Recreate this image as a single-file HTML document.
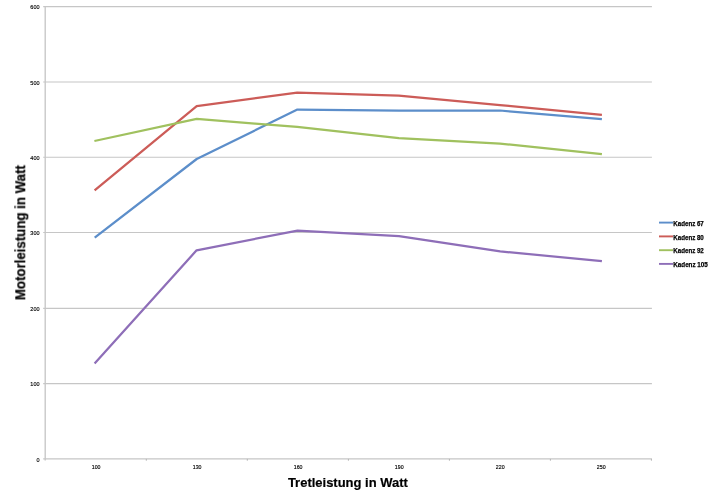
<!DOCTYPE html>
<html>
<head>
<meta charset="utf-8">
<style>
html,body{margin:0;padding:0;background:#fff;}
body{width:712px;height:490px;overflow:hidden;font-family:"Liberation Sans",sans-serif;}
svg{display:block;}
text{font-family:"Liberation Sans",sans-serif;}
</style>
</head>
<body>
<svg width="712" height="490" viewBox="0 0 712 490">
<rect width="712" height="490" fill="#ffffff"/>
<defs>
<filter id="soft" x="-5%" y="-5%" width="110%" height="110%"><feGaussianBlur stdDeviation="0.35"/></filter>
<filter id="softt" x="-5%" y="-5%" width="110%" height="110%"><feGaussianBlur stdDeviation="0.3"/></filter>
</defs>
<g stroke="#c6c6c6" stroke-width="1.15" fill="none">
<line x1="43.2" y1="6.6" x2="651.9" y2="6.6"/>
<line x1="43.2" y1="81.95" x2="651.9" y2="81.95"/>
<line x1="43.2" y1="157.25" x2="651.9" y2="157.25"/>
<line x1="43.2" y1="232.45" x2="651.9" y2="232.45"/>
<line x1="43.2" y1="308.3" x2="651.9" y2="308.3"/>
<line x1="43.2" y1="383.6" x2="651.9" y2="383.6"/>
</g>
<g stroke="#c6c6c6" stroke-width="1.15" fill="none">
<line x1="45.199999999999996" y1="6.0" x2="45.199999999999996" y2="460.6" stroke-width="1.35"/>
<line x1="43.2" y1="458.9" x2="651.9" y2="458.9"/>
</g>
<g stroke="#b4b4b4" stroke-width="1" fill="none">
<line x1="146.3" y1="458.9" x2="146.3" y2="460.7"/>
<line x1="247.3" y1="458.9" x2="247.3" y2="460.7"/>
<line x1="348.4" y1="458.9" x2="348.4" y2="460.7"/>
<line x1="449.4" y1="458.9" x2="449.4" y2="460.7"/>
<line x1="550.4" y1="458.9" x2="550.4" y2="460.7"/>
<line x1="651.4" y1="458.9" x2="651.4" y2="460.7"/>
</g>
<g font-size="6.1" fill="#000" stroke="#000" stroke-width="0.15" text-anchor="end" filter="url(#softt)">
<text transform="translate(39.5,9.35) scale(0.9,1)">600</text>
<text transform="translate(39.5,84.70) scale(0.9,1)">500</text>
<text transform="translate(39.5,160.00) scale(0.9,1)">400</text>
<text transform="translate(39.5,235.20) scale(0.9,1)">300</text>
<text transform="translate(39.5,311.05) scale(0.9,1)">200</text>
<text transform="translate(39.5,386.35) scale(0.9,1)">100</text>
<text transform="translate(39.5,461.65) scale(0.9,1)">0</text>
</g>
<g font-size="5.6" fill="#000" stroke="#000" stroke-width="0.15" text-anchor="middle" filter="url(#softt)">
<text transform="translate(96.1,469.0) scale(0.94,1)">100</text>
<text transform="translate(197.1,469.0) scale(0.94,1)">130</text>
<text transform="translate(298.1,469.0) scale(0.94,1)">160</text>
<text transform="translate(399.2,469.0) scale(0.94,1)">190</text>
<text transform="translate(500.2,469.0) scale(0.94,1)">220</text>
<text transform="translate(601.2,469.0) scale(0.94,1)">250</text>
</g>
<g fill="none" stroke-width="2.25" stroke-linejoin="round" stroke-linecap="butt" filter="url(#soft)">
<polyline stroke="#5c8eca" points="94.7,237.7 196.7,159.0 297.4,109.6 398.8,110.6 500,110.5 601.9,119.2"/>
<polyline stroke="#cc5c58" points="94.6,190.4 196.7,106.1 297.2,92.7 398.8,95.6 500,105.1 601.9,114.8"/>
<polyline stroke="#a0c15e" points="94.4,141.0 196.7,118.9 297.2,126.9 398.8,138.2 500,143.6 601.9,154.2"/>
<polyline stroke="#8e6eb8" points="94.6,363.4 196.6,250.3 297.5,230.55 399,236.1 500.2,251.4 601.9,261.2"/>
</g>
<g stroke-width="1.9" fill="none" filter="url(#soft)">
<line x1="659" y1="222.6" x2="673" y2="222.6" stroke="#5c8eca"/>
<line x1="659" y1="236.4" x2="673" y2="236.4" stroke="#cc5c58"/>
<line x1="659" y1="250.2" x2="673" y2="250.2" stroke="#a0c15e"/>
<line x1="659" y1="263.9" x2="673" y2="263.9" stroke="#8e6eb8"/>
</g>
<g font-size="7" font-weight="bold" fill="#000" stroke="#000" stroke-width="0.25" filter="url(#softt)">
<text x="673.3" y="225.7" textLength="30.5" lengthAdjust="spacingAndGlyphs">Kadenz 67</text>
<text x="673.3" y="239.55" textLength="30.5" lengthAdjust="spacingAndGlyphs">Kadenz 80</text>
<text x="673.3" y="253.25" textLength="30.5" lengthAdjust="spacingAndGlyphs">Kadenz 92</text>
<text x="673.3" y="267.3" textLength="34.5" lengthAdjust="spacingAndGlyphs">Kadenz 105</text>
</g>
<text x="347.9" y="487" font-size="13.7" font-weight="bold" fill="#000" stroke="#000" stroke-width="0.2" filter="url(#softt)" text-anchor="middle" textLength="120" lengthAdjust="spacingAndGlyphs">Tretleistung in Watt</text>
<text transform="translate(25.3,232.6) rotate(-90)" font-size="13.8" font-weight="bold" fill="#000" stroke="#000" stroke-width="0.2" filter="url(#softt)" text-anchor="middle" textLength="135" lengthAdjust="spacingAndGlyphs">Motorleistung in Watt</text>
</svg>
</body>
</html>
